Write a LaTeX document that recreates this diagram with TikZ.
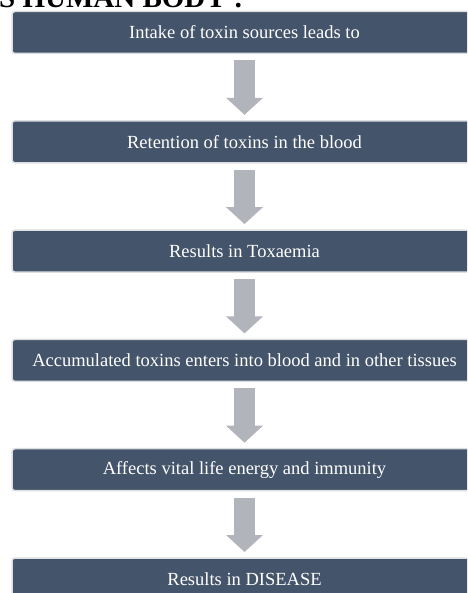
\documentclass[tikz,border=0pt]{standalone}
\usepackage{fontspec}
\setmainfont{Liberation Serif}
\usetikzlibrary{arrows.meta, positioning}

\definecolor{boxblue}{RGB}{68,84,106}
\definecolor{boxedge}{RGB}{220,222,226}
\definecolor{arrowgray}{RGB}{177,180,187}

\tikzset{
	stepbox/.style={rectangle, rounded corners=3pt, fill=boxblue, draw=boxedge, line width=1.5pt,
		minimum width=465pt, minimum height=42pt, inner sep=0pt, outer sep=0pt,
		text=white, font=\fontsize{18.5}{20}\selectfont},
	blockarrow/.style={arrowgray, line width=21pt, shorten <=7pt, shorten >=6pt,
		-{Triangle[width=36pt, length=17pt]}}
}

\begin{document}
\begin{tikzpicture}[x=1pt, y=-1pt]
	\useasboundingbox (0,0) rectangle (467,593);
	\clip (0,0) rectangle (467,593);
	\node[anchor=base west, inner sep=0pt, font=\bfseries\fontsize{29}{30}\selectfont] (title) at (-1,8) {S HUMAN BODY :};
	\node[stepbox] (s1) at (244.5,32.5) {Intake of toxin sources leads to};
	\node[stepbox, below=67.3pt of s1] (s2) {Retention of toxins in the blood};
	\node[stepbox, below=67.3pt of s2] (s3) {Results in Toxaemia};
	\node[stepbox, below=67.3pt of s3] (s4) {Accumulated toxins enters into blood and in other tissues};
	\node[stepbox, below=67.3pt of s4] (s5) {Affects vital life energy and immunity};
	\node[stepbox, below=67.3pt of s5] (s6) {Results in DISEASE};
	\draw[blockarrow] (s1) -- (s2);
	\draw[blockarrow] (s2) -- (s3);
	\draw[blockarrow] (s3) -- (s4);
	\draw[blockarrow] (s4) -- (s5);
	\draw[blockarrow] (s5) -- (s6);
\end{tikzpicture}
\end{document}
